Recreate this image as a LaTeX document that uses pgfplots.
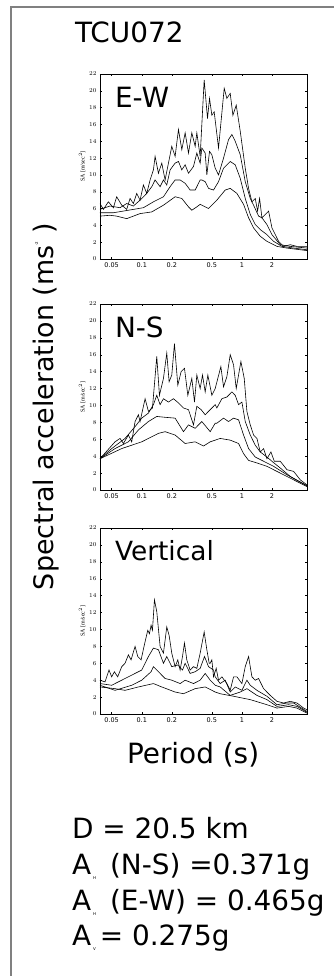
\documentclass[border=0pt]{standalone}
\usepackage{fontspec}
\setmainfont{DejaVu Sans}
\newfontfamily\serif{Liberation Serif}
\usepackage{pgfplots}
\pgfplotsset{compat=1.18}
\definecolor{framegray}{RGB}{128,128,128}
\begin{document}
\begin{tikzpicture}
\useasboundingbox (0,0) rectangle (334bp,-976bp);
\draw[framegray, line width=1.2bp] (11bp,-976bp) -- (11bp,-7bp) -- (334bp,-7bp);

% ---------------- E-W
\begin{axis}[at={(100bp,-74bp)}, anchor=north west,
  scale only axis, width=207bp, height=185bp,
  xmode=log, xmin=0.0383, xmax=4.467, ymin=0, ymax=22,
  ytick={0,2,...,22},
  xtick={0.05,0.1,0.2,0.5,1,2},
  xticklabels={0.05,0.1,0.2,0.5,1,2},
  tick style={black, line width=0.4pt},
  major tick length=2bp,
  axis line style={black, line width=0.6pt},
  tick label style={font=\fontsize{6.5}{6.5}\selectfont},
  ylabel={\serif SA [m/sec$^2$]},
  ylabel style={font=\fontsize{6}{6}\selectfont, yshift=-3bp}]
\addplot[black, line width=0.6pt] coordinates {(0.0383,6.6)(0.0414,5.9)(0.0464,6.8)(0.0521,6.1)(0.0562,7.4)(0.0631,6.4)(0.0708,5.9)(0.0764,7.2)(0.0825,6.6)(0.0891,7.8)(0.0962,7.0)(0.1039,8.8)(0.1122,7.8)(0.1212,9.4)(0.1308,10.6)(0.1359,12.2)(0.1468,10.2)(0.1585,11.4)(0.1711,9.4)(0.1848,11.4)(0.1995,13.4)(0.2154,12.2)(0.2326,15.4)(0.2512,13.0)(0.2712,15.0)(0.2929,12.6)(0.3162,15.0)(0.3415,13.4)(0.3548,15.0)(0.3831,12.2)(0.4201,21.3)(0.4536,16.7)(0.4750,19.1)(0.5012,17.1)(0.5288,17.5)(0.5843,13.2)(0.6658,20.3)(0.7079,19.1)(0.7646,19.7)(0.8128,17.1)(0.8777,18.3)(0.9624,15.2)(1.080,10.8)(1.166,8.4)(1.259,6.8)(1.359,7.2)(1.435,5.7)(1.502,7.2)(1.585,4.9)(1.848,5.7)(1.995,3.7)(2.326,2.1)(2.610,1.5)(3.043,1.7)(3.548,1.5)(4.467,1.5)};
\addplot[black, line width=0.6pt] coordinates {(0.0383,5.9)(0.0482,6.3)(0.0607,6.1)(0.0708,6.6)(0.0825,6.3)(0.0962,7.0)(0.1122,7.8)(0.1259,8.6)(0.1359,9.4)(0.1525,8.6)(0.1647,9.4)(0.1778,8.8)(0.1920,10.6)(0.2154,11.4)(0.2326,11.6)(0.2512,10.6)(0.2712,11.2)(0.2929,10.2)(0.3286,11.0)(0.3548,12.6)(0.3831,11.4)(0.3981,13.2)(0.4299,12.6)(0.4467,10.0)(0.4750,12.8)(0.5012,12.4)(0.5412,10.8)(0.5843,10.0)(0.6556,12.0)(0.7356,14.2)(0.7943,14.8)(0.8577,14.0)(0.9624,12.4)(1.080,9.2)(1.212,7.2)(1.308,6.4)(1.468,5.1)(1.585,4.9)(1.778,4.1)(1.995,2.9)(2.416,1.7)(3.043,1.5)(4.467,1.3)};
\addplot[black, line width=0.6pt] coordinates {(0.0383,5.5)(0.0521,5.5)(0.0656,5.7)(0.0825,5.9)(0.1039,6.1)(0.1308,6.8)(0.1647,7.4)(0.1920,8.6)(0.2154,9.4)(0.2416,9.4)(0.2712,9.0)(0.3043,8.2)(0.3415,8.2)(0.3831,9.4)(0.3981,9.4)(0.4299,9.2)(0.4642,8.4)(0.5207,8.2)(0.5843,9.2)(0.6556,10.8)(0.7646,11.6)(0.8577,11.2)(0.9624,9.6)(1.080,7.2)(1.212,5.3)(1.359,4.1)(1.525,3.5)(1.778,2.9)(2.073,2.1)(2.512,1.5)(3.286,1.3)(4.467,1.1)};
\addplot[black, line width=0.6pt] coordinates {(0.0383,5.1)(0.0482,5.2)(0.0562,5.1)(0.0708,4.8)(0.0962,5.4)(0.1259,5.6)(0.1647,6.4)(0.2154,7.4)(0.2512,7.2)(0.2929,6.2)(0.3162,5.8)(0.3548,6.2)(0.3831,6.5)(0.4642,6.0)(0.5623,7.0)(0.6813,8.2)(0.7646,8.4)(0.8913,7.8)(1.039,6.5)(1.166,4.9)(1.308,3.7)(1.525,2.7)(1.778,2.1)(2.239,1.5)(2.818,1.3)(4.467,1.0)};
\end{axis}

% ---------------- N-S
\begin{axis}[at={(100bp,-304bp)}, anchor=north west,
  scale only axis, width=207bp, height=186bp,
  xmode=log, xmin=0.0383, xmax=4.467, ymin=0, ymax=22,
  ytick={0,2,...,22},
  xtick={0.05,0.1,0.2,0.5,1,2},
  xticklabels={0.05,0.1,0.2,0.5,1,2},
  tick style={black, line width=0.4pt},
  major tick length=2bp,
  axis line style={black, line width=0.6pt},
  tick label style={font=\fontsize{6.5}{6.5}\selectfont},
  ylabel={\serif SA [m/sec$^2$]},
  ylabel style={font=\fontsize{6}{6}\selectfont, yshift=-3bp}]
\addplot[black, line width=0.6pt] coordinates {(0.0383,3.7)(0.0471,4.9)(0.0541,5.7)(0.0607,6.1)(0.0656,5.5)(0.0736,6.5)(0.0794,5.7)(0.0858,8.1)(0.0926,8.9)(0.0962,8.1)(0.1080,10.8)(0.1166,9.3)(0.1279,9.7)(0.1413,15.8)(0.1502,11.2)(0.1647,13.2)(0.1778,16.2)(0.1876,12.8)(0.1995,13.6)(0.2121,17.3)(0.2291,12.4)(0.2473,14.0)(0.2671,14.4)(0.2884,11.2)(0.3162,13.2)(0.3362,10.4)(0.3548,13.6)(0.3831,12.0)(0.4043,13.6)(0.4299,11.6)(0.4571,13.6)(0.5012,11.2)(0.5412,12.0)(0.6166,14.6)(0.6556,12.2)(0.7079,13.4)(0.7646,16.0)(0.8254,14.8)(0.8777,12.0)(0.9772,15.2)(1.055,13.2)(1.122,9.3)(1.212,7.7)(1.308,6.5)(1.413,6.1)(1.525,4.5)(1.647,4.9)(1.778,3.7)(1.950,4.5)(2.106,3.4)(2.416,3.4)(2.818,2.4)(3.286,2.2)(3.831,1.2)(4.467,0.6)};
\addplot[black, line width=0.6pt] coordinates {(0.0383,3.7)(0.0501,4.9)(0.0681,6.1)(0.0858,7.5)(0.1,8.5)(0.1166,9.1)(0.1308,10.1)(0.1413,11.2)(0.1525,10.1)(0.1647,10.8)(0.1848,10.4)(0.2073,10.8)(0.2326,10.3)(0.2610,9.7)(0.2929,9.5)(0.3286,7.7)(0.3548,9.9)(0.3920,9.5)(0.4299,8.9)(0.4825,9.5)(0.5412,10.1)(0.5623,9.7)(0.6310,10.8)(0.7079,11.0)(0.7943,11.6)(0.8577,11.2)(0.9261,10.1)(1.0,10.4)(1.080,8.1)(1.212,6.5)(1.359,5.3)(1.525,4.5)(1.778,3.9)(1.995,3.4)(2.416,2.6)(3.043,1.6)(4.467,0.5)};
\addplot[black, line width=0.6pt] coordinates {(0.0383,3.7)(0.0541,4.9)(0.0736,5.7)(0.0926,7.1)(0.1166,8.1)(0.1413,8.7)(0.1711,8.6)(0.2154,8.5)(0.2610,6.9)(0.2929,7.7)(0.3415,7.3)(0.3981,8.1)(0.4825,6.9)(0.5412,7.9)(0.5623,7.9)(0.6556,8.5)(0.7356,8.1)(0.8254,8.5)(0.9261,8.3)(1.039,6.5)(1.166,4.9)(1.359,3.9)(1.647,3.4)(2.073,2.8)(2.818,1.8)(4.467,0.5)};
\addplot[black, line width=0.6pt] coordinates {(0.0383,3.7)(0.0631,4.9)(0.1,5.7)(0.1468,6.7)(0.1711,6.9)(0.2154,6.5)(0.2712,5.5)(0.3415,5.7)(0.4137,5.2)(0.4825,5.7)(0.6070,6.1)(0.7646,5.9)(0.9261,5.5)(1.039,4.3)(1.166,3.5)(1.413,3.2)(1.778,2.8)(2.416,2.0)(3.286,1.2)(4.467,0.4)};
\end{axis}

% ---------------- Vertical
\begin{axis}[at={(100bp,-528bp)}, anchor=north west,
  scale only axis, width=207bp, height=186bp,
  xmode=log, xmin=0.0383, xmax=4.467, ymin=0, ymax=22,
  ytick={0,2,...,22},
  xtick={0.05,0.1,0.2,0.5,1,2},
  xticklabels={0.05,0.1,0.2,0.5,1,2},
  tick style={black, line width=0.4pt},
  major tick length=2bp,
  axis line style={black, line width=0.6pt},
  tick label style={font=\fontsize{6.5}{6.5}\selectfont},
  ylabel={\serif SA [m/sec$^2$]},
  ylabel style={font=\fontsize{6}{6}\selectfont, yshift=-3bp}]
\addplot[black, line width=0.6pt] coordinates {(0.0383,4.0)(0.0430,3.8)(0.0471,5.2)(0.0501,4.4)(0.0533,5.0)(0.0575,4.4)(0.0631,5.6)(0.0681,6.0)(0.0736,7.0)(0.0782,6.4)(0.0858,8.0)(0.0912,6.8)(0.0985,6.4)(0.1063,8.2)(0.1148,9.9)(0.1193,9.5)(0.1240,10.5)(0.1279,9.9)(0.1339,13.5)(0.1413,12.1)(0.1525,8.0)(0.1647,7.2)(0.1778,10.3)(0.1876,9.3)(0.1995,7.2)(0.2154,5.6)(0.2291,6.4)(0.2416,5.2)(0.2551,6.8)(0.2671,8.4)(0.2818,6.4)(0.3043,5.2)(0.3286,5.6)(0.3548,5.4)(0.3831,7.2)(0.4201,9.7)(0.4467,7.6)(0.4715,6.0)(0.4825,6.0)(0.5012,6.4)(0.5207,4.4)(0.5538,5.4)(0.5843,4.0)(0.6310,4.4)(0.7079,3.6)(0.7646,2.8)(0.8254,4.4)(0.8913,4.4)(1.0,3.6)(1.080,5.6)(1.166,6.8)(1.259,4.4)(1.359,4.0)(1.468,4.2)(1.647,3.0)(1.920,2.2)(2.239,1.5)(2.610,1.3)(3.043,1.5)(3.548,1.3)(4.137,0.7)(4.467,0.5)};
\addplot[black, line width=0.6pt] coordinates {(0.0383,3.6)(0.0501,3.4)(0.0631,4.0)(0.0794,4.6)(0.1,5.2)(0.1166,6.8)(0.1308,7.8)(0.1468,7.6)(0.1647,6.0)(0.1778,6.8)(0.1995,5.6)(0.2291,5.8)(0.2551,5.2)(0.2712,6.0)(0.3043,4.8)(0.3415,5.0)(0.3831,5.4)(0.4233,6.8)(0.4642,5.6)(0.5207,5.2)(0.5412,4.4)(0.6070,3.6)(0.6813,4.0)(0.7646,2.6)(0.8577,3.2)(1.0,2.8)(1.122,4.0)(1.212,3.4)(1.413,2.8)(1.778,2.1)(2.239,1.1)(2.818,1.3)(3.286,1.3)(4.467,0.3)};
\addplot[black, line width=0.6pt] coordinates {(0.0383,3.4)(0.0541,2.8)(0.0794,3.4)(0.1,4.0)(0.1240,5.0)(0.1308,5.6)(0.1468,5.0)(0.1711,4.2)(0.1995,4.0)(0.2416,3.6)(0.2712,4.0)(0.3286,3.6)(0.3831,4.0)(0.4299,4.8)(0.4825,4.0)(0.5412,3.4)(0.6070,3.2)(0.7646,2.2)(0.9624,2.6)(1.122,3.0)(1.413,2.2)(1.778,1.7)(2.239,0.9)(2.929,1.1)(3.548,0.9)(4.467,0.2)};
\addplot[black, line width=0.6pt] coordinates {(0.0383,3.2)(0.0541,3.0)(0.0681,2.8)(0.0926,3.2)(0.1308,3.6)(0.1585,3.2)(0.2154,2.6)(0.2610,2.4)(0.3415,3.0)(0.4299,3.2)(0.5412,2.6)(0.6070,2.4)(0.8254,2.1)(1.212,1.7)(1.778,1.1)(2.239,0.7)(2.929,0.9)(3.548,0.7)(4.467,0.1)};
\end{axis}

\begin{scope}[every node/.style={inner sep=0pt, outer sep=0pt, font=\fontsize{28}{28}\selectfont}]
\node[anchor=base west] at (75bp,-42bp) {TCU072};
\node[anchor=base west] at (115bp,-107bp) {E-W};
\node[anchor=base west] at (115bp,-337bp) {N-S};
\node[anchor=base west, font=\fontsize{26.5}{26.5}\selectfont] at (115bp,-560bp) {Vertical};
\node[anchor=base west, rotate=90, font=\fontsize{27}{27}\selectfont] at (53bp,-590bp) {Spectral acceleration (ms\raisebox{15bp}{\fontsize{4}{4}\selectfont -2}\hspace{8bp})};
\node[anchor=base west] at (127bp,-763bp) {Period (s)};
\node[anchor=base west] at (72bp,-838bp) {D = 20.5 km};
\node[anchor=base west] at (72bp,-874bp) {A\hspace{2bp}\raisebox{-5bp}{\fontsize{4}{4}\selectfont H}\hspace{14bp}(N-S) =0.371g};
\node[anchor=base west] at (72bp,-910bp) {A\hspace{2bp}\raisebox{-5bp}{\fontsize{4}{4}\selectfont H}\hspace{14bp}(E-W) = 0.465g};
\node[anchor=base west] at (72bp,-945bp) {A\hspace{2bp}\raisebox{-5bp}{\fontsize{4}{4}\selectfont V}\hspace{4bp}= 0.275g};
\end{scope}
\end{tikzpicture}
\end{document}
